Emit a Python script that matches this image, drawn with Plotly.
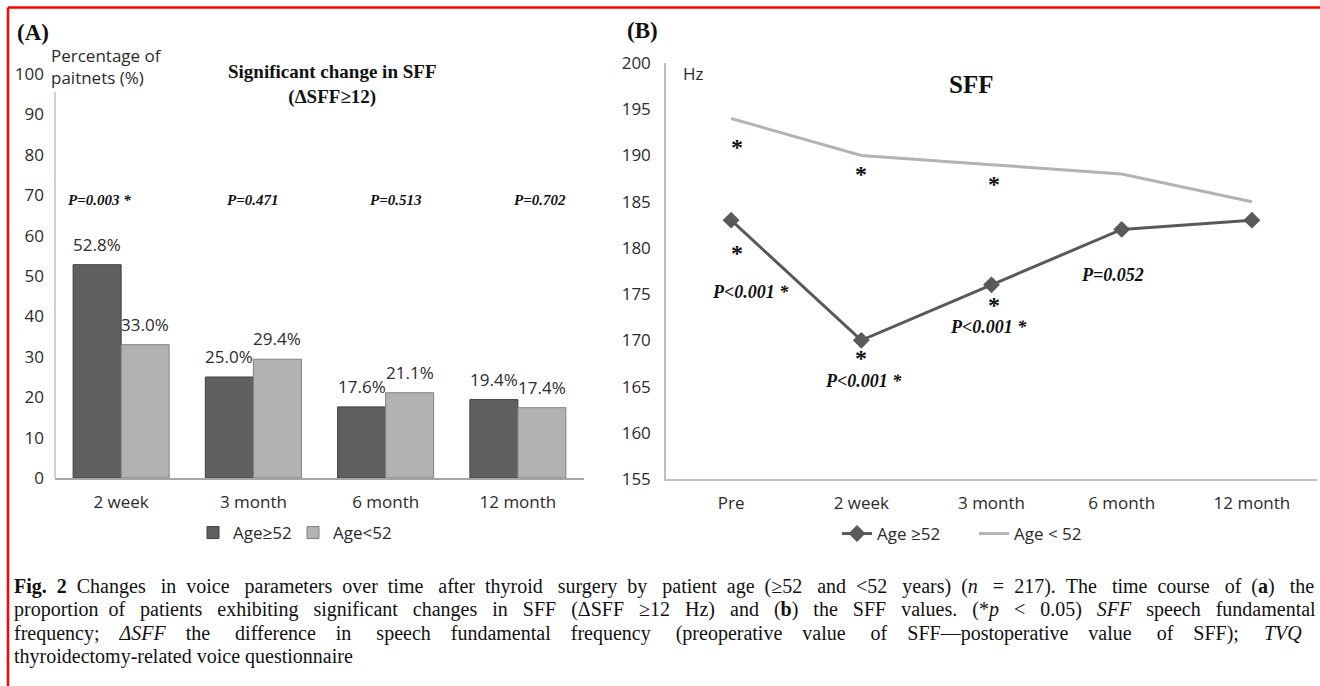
import plotly.graph_objects as go

# ---------------- data ----------------
categories_a = ["2 week", "3 month", "6 month", "12 month"]
pct_age_old = [52.8, 25.0, 17.6, 19.4]      # Age>=52
pct_age_young = [33.0, 29.4, 21.1, 17.4]    # Age<52
p_values_a = ["P=0.003 *", "P=0.471", "P=0.513", "P=0.702"]

categories_b = ["Pre", "2 week", "3 month", "6 month", "12 month"]
sff_age_old = [183, 170, 176, 182, 183]     # Age >=52
sff_age_young = [194, 190, 189, 188, 185]   # Age < 52
p_values_b = ["P&lt;0.001 *", "P&lt;0.001 *", "P&lt;0.001 *", "P=0.052"]

caption_lines = [
    "<b>Fig. 2</b> Changes in voice parameters over time after thyroid surgery by patient age (≥52 and &lt;52 years) (<i>n</i> = 217). The time course of (<b>a</b>) the",
    "proportion of patients exhibiting significant changes in SFF (ΔSFF ≥12 Hz) and (<b>b</b>) the SFF values. (*<i>p</i> &lt; 0.05) <i>SFF</i> speech fundamental",
    "frequency; <i>ΔSFF</i> the difference in speech fundamental frequency (preoperative value of SFF—postoperative value of SFF); <i>TVQ</i>",
    "thyroidectomy-related voice questionnaire",
]

# ---------------- styling / positions ----------------
W, H = 1320, 686
SANS = "Open Sans"
SERIF = "Liberation Serif"
DARK = "#606060"
LIGHT = "#b2b2b2"
TXT = "#2b2b2b"


def px_x(x):
    return x / W


def px_y(y):
    return (H - y) / H


def justify(line, extra):
    """Spread `extra` additional non-breaking spaces over the word gaps."""
    words = line.split()
    gaps = len(words) - 1
    if gaps <= 0 or extra <= 0:
        return line
    out = words[0]
    for i, w in enumerate(words[1:]):
        n = 1 + (extra * (i + 1)) // gaps - (extra * i) // gaps
        out += "&nbsp;" * n + w
    return out


fig = go.Figure()

# Panel A bars
fig.add_trace(go.Bar(
    x=categories_a, y=pct_age_old, name="Age≥52",
    marker=dict(color=DARK, line=dict(color="#3f3f3f", width=1)),
    xaxis="x", yaxis="y", legend="legend",
))
fig.add_trace(go.Bar(
    x=categories_a, y=pct_age_young, name="Age&lt;52",
    marker=dict(color=LIGHT, line=dict(color="#808080", width=1)),
    xaxis="x", yaxis="y", legend="legend",
))

# Panel B lines
fig.add_trace(go.Scatter(
    x=categories_b, y=sff_age_old, name="Age ≥52", mode="lines+markers",
    line=dict(color="#595959", width=3),
    marker=dict(symbol="diamond", size=13, color="#595959"),
    xaxis="x2", yaxis="y2", legend="legend2",
))
fig.add_trace(go.Scatter(
    x=categories_b, y=sff_age_young, name="Age &lt; 52", mode="lines",
    line=dict(color="#b3b3b3", width=3),
    xaxis="x2", yaxis="y2", legend="legend2",
))

annotations = []

# bar value labels
bar_shift = 24
for cat, v in zip(categories_a, pct_age_old):
    annotations.append(dict(x=cat, y=v, xref="x", yref="y", text=f"{v:.1f}%",
                            showarrow=False, xshift=-bar_shift, yanchor="bottom", yshift=7,
                            font=dict(family=SANS, size=17, color=TXT)))
for cat, v in zip(categories_a, pct_age_young):
    annotations.append(dict(x=cat, y=v, xref="x", yref="y", text=f"{v:.1f}%",
                            showarrow=False, xshift=bar_shift, yanchor="bottom", yshift=7,
                            font=dict(family=SANS, size=17, color=TXT)))

# p-values panel A
p_a_shift = [-22, -1, 10, 22]
for cat, txt, s in zip(categories_a, p_values_a, p_a_shift):
    annotations.append(dict(x=cat, y=68.8, xref="x", yref="y", text=f"<b><i>{txt}</i></b>",
                            showarrow=False, xshift=s,
                            font=dict(family=SERIF, size=15, color="#111111")))

# panel B asterisks (upper: vs Age<52 line, lower: vs Age>=52 points)
star_cats = categories_b[:3]
upper_shift = [27, 17, 17]
lower_shift = [31, 16, 18]
star_dx = [6, 0, 2]
for cat, v, s, dx in zip(star_cats, sff_age_young[:3], upper_shift, star_dx):
    annotations.append(dict(x=cat, y=v, xref="x2", yref="y2", text="<b>*</b>", showarrow=False,
                            yshift=-s - 2, xshift=dx,
                            font=dict(family=SERIF, size=24, color="#111111")))
for cat, v, s, dx in zip(star_cats, sff_age_old[:3], lower_shift, star_dx):
    annotations.append(dict(x=cat, y=v, xref="x2", yref="y2", text="<b>*</b>", showarrow=False,
                            yshift=-s - 2, xshift=dx,
                            font=dict(family=SERIF, size=24, color="#111111")))

# panel B p-values
p_b_y = [175.2, 165.6, 171.4, 177.1]
p_b_dx = [19, 2, -3, -9]
for cat, txt, y, dx in zip(categories_b[:4], p_values_b, p_b_y, p_b_dx):
    annotations.append(dict(x=cat, y=y, xref="x2", yref="y2", text=f"<b><i>{txt}</i></b>",
                            showarrow=False, xshift=dx,
                            font=dict(family=SERIF, size=18, color="#111111")))

# titles and labels
annotations += [
    dict(x=px_x(15), y=px_y(33), xref="paper", yref="paper", xanchor="left", yanchor="middle",
         text="<b>(A)</b>", showarrow=False, font=dict(family=SERIF, size=23, color="#111111")),
    dict(x=px_x(625), y=px_y(31), xref="paper", yref="paper", xanchor="left", yanchor="middle",
         text="<b>(B)</b>", showarrow=False, font=dict(family=SERIF, size=23, color="#111111")),
    dict(x=px_x(49), y=px_y(66), xref="paper", yref="paper", xanchor="left", yanchor="middle",
         align="left", text="Percentage of<br>paitnets (%)", showarrow=False,
         font=dict(family=SANS, size=17, color=TXT)),
    dict(x=px_x(332), y=px_y(84), xref="paper", yref="paper", xanchor="center", yanchor="middle",
         text="<b>Significant change in SFF<br>(ΔSFF≥12)</b>", showarrow=False,
         font=dict(family=SERIF, size=19, color="#111111")),
    dict(x=px_x(693), y=px_y(73), xref="paper", yref="paper", xanchor="center", yanchor="middle",
         text="Hz", showarrow=False, font=dict(family=SANS, size=17, color=TXT)),
    dict(x=px_x(971), y=px_y(84), xref="paper", yref="paper", xanchor="center", yanchor="middle",
         text="<b>SFF</b>", showarrow=False, font=dict(family=SERIF, size=25, color="#111111")),
]

cap_y = [586, 609, 633, 656]
cap_extra = [37, 41, 51, 0]
for line, y, extra in zip(caption_lines, cap_y, cap_extra):
    annotations.append(dict(x=px_x(12), y=px_y(y), xref="paper", yref="paper",
                            xanchor="left", yanchor="middle", align="left",
                            text=justify(line, extra), showarrow=False,
                            font=dict(family=SERIF, size=20, color="#111111")))

shapes = [
    # red frame (top and left)
    dict(type="line", xref="paper", yref="paper", x0=px_x(8), x1=1, y0=px_y(7.5), y1=px_y(7.5),
         line=dict(color="#ff0000", width=2.5)),
    dict(type="line", xref="paper", yref="paper", x0=px_x(8), x1=px_x(8), y0=px_y(7.5), y1=0,
         line=dict(color="#ff0000", width=2.5)),
    # panel A y axis line (stops below the top label)
    dict(type="line", xref="x domain", yref="y", x0=0, x1=0, y0=0, y1=95.5,
         line=dict(color="#bfbfbf", width=1.5)),
]

axis_font = dict(family=SANS, size=17, color=TXT)

fig.update_layout(
    width=W, height=H,
    margin=dict(l=0, r=0, t=0, b=0, pad=0, autoexpand=False),
    paper_bgcolor="white", plot_bgcolor="white",
    barmode="group", bargap=0.274, bargroupgap=0,
    xaxis=dict(domain=[px_x(55), px_x(584)], anchor="y", type="category",
               range=[-0.5, 3.5], showline=True, linecolor="#a6a6a6", linewidth=1.5,
               ticks="", tickfont=axis_font, showgrid=False, zeroline=False,
               ticklabelstandoff=8, fixedrange=True, automargin=False),
    yaxis=dict(domain=[px_y(478), px_y(74)], anchor="x", range=[0, 100], dtick=10,
               showline=False, showgrid=False, zeroline=False, ticks="",
               tickfont=axis_font, ticklabelstandoff=10, fixedrange=True, automargin=False),
    xaxis2=dict(domain=[px_x(666), px_x(1317)], anchor="y2", type="category",
                range=[-0.5, 4.5], showline=True, linecolor="#bfbfbf", linewidth=1.5,
                ticks="", tickfont=axis_font, showgrid=False, zeroline=False,
                ticklabelstandoff=8, fixedrange=True, automargin=False),
    yaxis2=dict(domain=[px_y(479), px_y(63)], anchor="x2", range=[155, 200], dtick=5,
                showline=True, linecolor="#bfbfbf", linewidth=1.5, showgrid=False,
                zeroline=False, ticks="", tickfont=axis_font, ticklabelstandoff=10,
                fixedrange=True, automargin=False),
    legend=dict(orientation="h", x=px_x(193), xanchor="left", y=px_y(533), yanchor="middle",
                font=dict(family=SANS, size=17, color=TXT), bgcolor="rgba(0,0,0,0)",
                entrywidth=55, entrywidthmode="pixels", tracegroupgap=0),
    legend2=dict(orientation="h", x=px_x(837), xanchor="left", y=px_y(534), yanchor="middle",
                 font=dict(family=SANS, size=17, color=TXT), bgcolor="rgba(0,0,0,0)",
                 entrywidth=92, entrywidthmode="pixels"),
    annotations=annotations,
    shapes=shapes,
    showlegend=True,
)

fig.write_html("out.html", config={"displayModeBar": False},
               post_script="document.body.style.margin='0';document.documentElement.style.overflow='hidden';")
